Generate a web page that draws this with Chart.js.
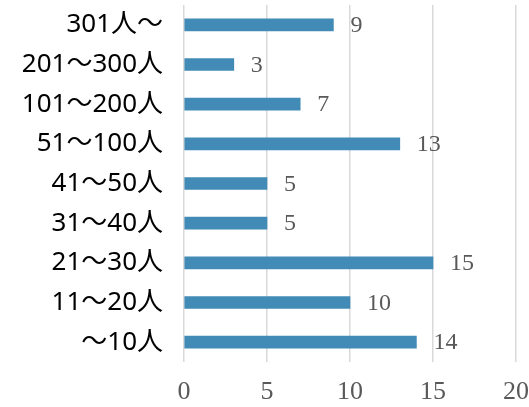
<!DOCTYPE html>
<html><head><meta charset="utf-8">
<script src="https://cdn.jsdelivr.net/npm/chart.js@4/dist/chart.umd.min.js"></script>
<style>html,body{margin:0;padding:0;background:#fff}#wrap{width:529px;height:407px}</style>
</head><body><div id="wrap"><canvas id="c" width="529" height="407"></canvas></div>
<script>
const categories = ['301人～','201～300人','101～200人','51～100人','41～50人','31～40人','21～30人','11～20人','～10人'];
const values = [9,3,7,13,5,5,15,10,14];
const xTicks = [0,5,10,15,20];

const labelPlugin = {
  id: 'valueLabels',
  afterDatasetsDraw(chart) {
    const ctx = chart.ctx;
    const meta = chart.getDatasetMeta(0);
    ctx.save();
    ctx.font = '24px "Liberation Serif", serif';
    ctx.fillStyle = '#595959';
    ctx.textAlign = 'left';
    ctx.textBaseline = 'middle';
    meta.data.forEach((bar, i) => {
      ctx.fillText(String(values[i]), bar.x + 17, bar.y + 1);
    });
    ctx.restore();
  }
};

new Chart(document.getElementById('c'), {
  type: 'bar',
  data: { labels: categories, datasets: [{ data: values, backgroundColor: '#428bb6', barThickness: 12 }] },
  options: {
    indexAxis: 'y',
    responsive: false,
    animation: false,
    layout: { padding: { top: 5, right: 13, left: 0, bottom: 0 } },
    plugins: { legend: { display: false }, tooltip: { enabled: false } },
    scales: {
      x: {
        min: 0, max: 20,
        afterBuildTicks: s => { s.ticks = xTicks.map(v => ({ value: v })); },
        afterFit: s => { s.height = 45; s.paddingLeft = 0; s.paddingRight = 0; },
        grid: { color: '#d9d9d9', lineWidth: 1.5, drawTicks: false },
        border: { display: false },
        ticks: { color: '#595959', padding: 15, font: { family: '"Liberation Serif", serif', size: 26 } }
      },
      y: {
        afterFit: s => { s.width = 184; s.paddingTop = 0; s.paddingBottom = 0; },
        grid: { display: false, drawTicks: false },
        border: { display: false },
        ticks: { color: '#000', padding: 21, font: { family: '"Noto Sans", "Noto Sans CJK JP", sans-serif', size: 26 } }
      }
    }
  },
  plugins: [labelPlugin]
});
</script></body></html>
